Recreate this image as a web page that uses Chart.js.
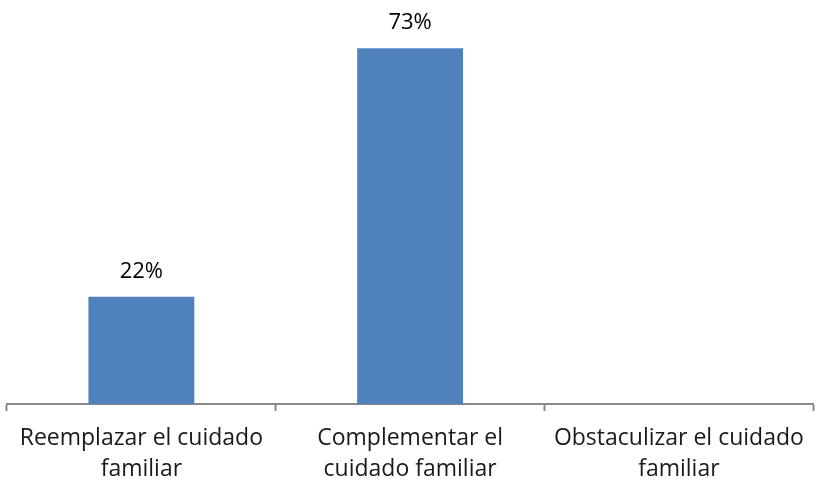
<!DOCTYPE html>
<html>
<head>
<meta charset="utf-8">
<script src="https://cdn.jsdelivr.net/npm/chart.js@4"></script>
<style>
  html, body { margin: 0; padding: 0; background: #fff; }
  #wrap { width: 816px; height: 489px; }
</style>
</head>
<body>
<div id="wrap"><canvas id="chart" width="816" height="489"></canvas></div>
<script>
const categories = [
  ["Reemplazar el cuidado", "familiar"],
  ["Complementar el", "cuidado familiar"],
  ["Obstaculizar el cuidado", "familiar"]
];
const values = [0.22, 0.73, null];
const yMax = 0.8;

const FONT = "'Open Sans', Lato, sans-serif";

// percentage labels above each bar
const barLabels = {
  id: "barLabels",
  afterDatasetsDraw(chart) {
    const c = chart.ctx;
    const meta = chart.getDatasetMeta(0);
    c.save();
    c.fillStyle = "#000";
    c.font = "22px " + FONT;
    c.textAlign = "center";
    c.textBaseline = "middle";
    meta.data.forEach((bar, i) => {
      const v = values[i];
      if (v == null) return;
      c.fillText(Math.round(v * 100) + "%", bar.x, bar.y - 25);
    });
    c.restore();
  }
};

new Chart(document.getElementById("chart"), {
  type: "bar",
  data: {
    labels: categories,
    datasets: [{
      data: values,
      backgroundColor: "#4f81bd",
      borderWidth: 0,
      barPercentage: 0.394,
      categoryPercentage: 1
    }]
  },
  options: {
    responsive: false,
    animation: false,
    layout: { padding: { top: 14, left: 7, right: 1, bottom: 0 } },
    plugins: {
      legend: { display: false },
      tooltip: { enabled: false }
    },
    scales: {
      y: {
        display: false,
        min: 0,
        max: yMax
      },
      x: {
        afterFit(scale) { scale.height = 85; },
        border: { display: true, color: "#898989", width: 2 },
        grid: {
          drawOnChartArea: false,
          drawTicks: true,
          tickLength: 7,
          tickWidth: 2,
          tickColor: "#898989",
          offset: true
        },
        ticks: {
          color: "#1a1a1a",
          padding: 12,
          maxRotation: 0,
          autoSkip: false,
          font: { family: FONT, size: 23, lineHeight: 1.36 }
        }
      }
    }
  },
  plugins: [barLabels]
});
</script>
</body>
</html>
